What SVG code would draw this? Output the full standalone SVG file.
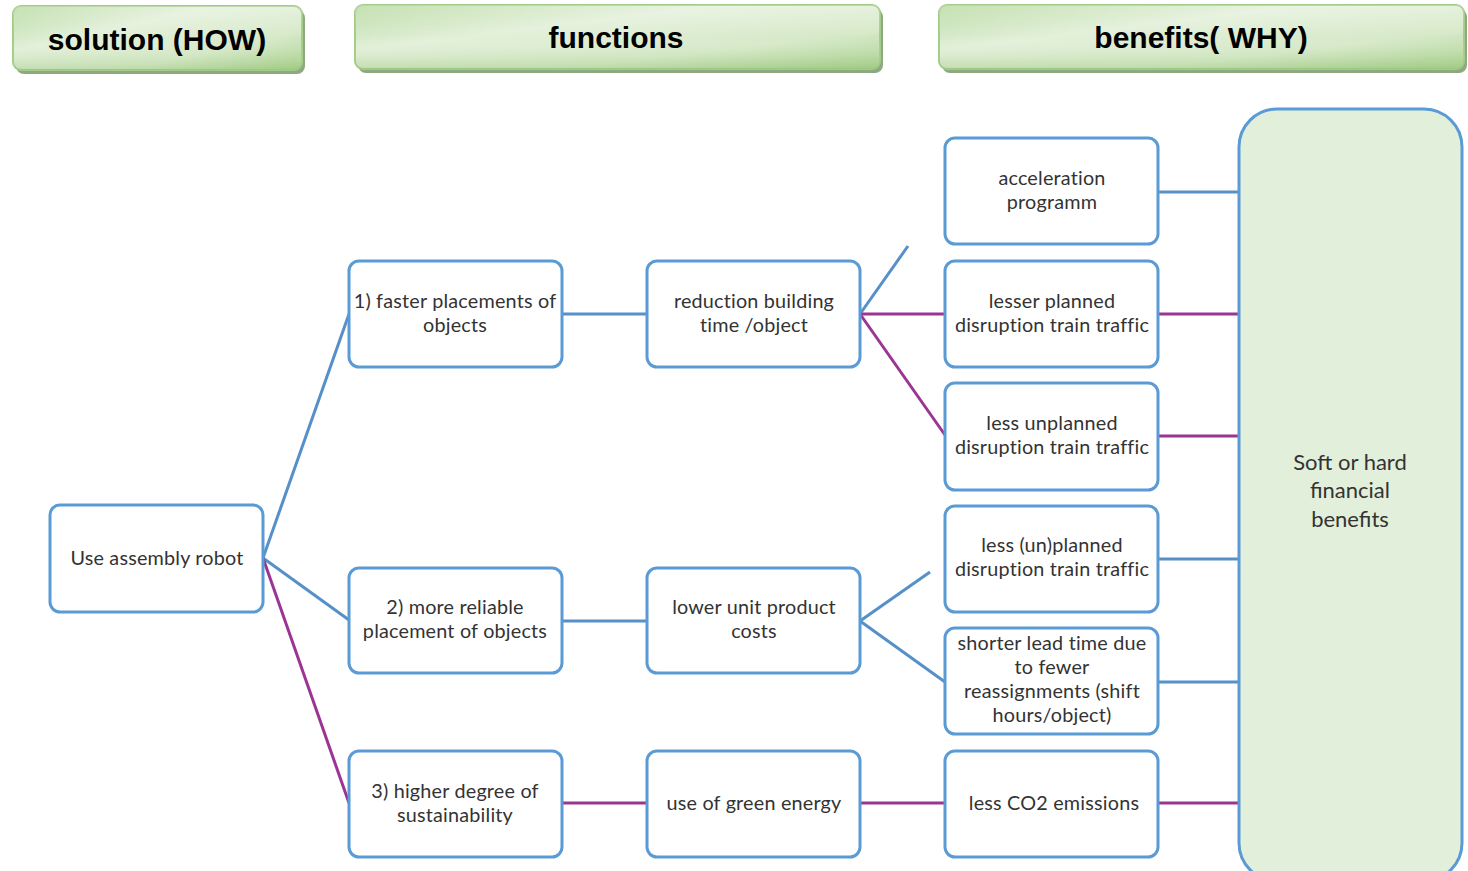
<svg xmlns="http://www.w3.org/2000/svg" width="1468" height="871" viewBox="0 0 1468 871">
<defs>
<linearGradient id="hg" x1="0" y1="0" x2="1" y2="1">
<stop offset="0" stop-color="#b4d89c"/>
<stop offset="0.35" stop-color="#e3f0da"/>
<stop offset="0.7" stop-color="#d6e9c8"/>
<stop offset="1" stop-color="#a8d08c"/>
</linearGradient>
<linearGradient id="hv" x1="0" y1="0" x2="0" y2="1">
<stop offset="0" stop-color="#ffffff" stop-opacity="0.25"/>
<stop offset="0.5" stop-color="#ffffff" stop-opacity="0"/>
<stop offset="1" stop-color="#8fbf6f" stop-opacity="0.35"/>
</linearGradient>
</defs>
<style>
.hdrs{fill:#8ea882;}
.hdr{fill:url(#hg);stroke:#a3cc88;stroke-width:2;}
.hdrv{fill:url(#hv);}
.ht{font-family:"Liberation Sans",Arial,sans-serif;font-weight:bold;font-size:30px;fill:#000;text-anchor:middle;}
.box{fill:#fff;stroke:#5b9bd5;stroke-width:3;}
.big{fill:#e2efda;stroke:#5b9bd5;stroke-width:3;}
.t{font-family:Lato,"Open Sans",sans-serif;font-size:19.8px;fill:#333;text-anchor:middle;letter-spacing:0.2px;}
.tb{font-family:Lato,"Open Sans",sans-serif;font-size:22px;fill:#333;text-anchor:middle;}
.cb{stroke:#5590c8;stroke-width:3;fill:none;}
.cp{stroke:#9b3594;stroke-width:3;fill:none;}
</style>
<rect width="1468" height="871" fill="#fff"/>

<g id="hdr-solution">
<rect class="hdrs" x="16" y="10" width="289" height="64" rx="8"/>
<rect class="hdr" x="13" y="6" width="289" height="64" rx="8"/>
<rect class="hdrv" x="13" y="6" width="289" height="64" rx="8"/>
<text class="ht" x="157" y="50">solution (HOW)</text>
</g>
<g id="hdr-functions">
<rect class="hdrs" x="358" y="9" width="525" height="64" rx="8"/>
<rect class="hdr" x="355" y="5" width="525" height="64" rx="8"/>
<rect class="hdrv" x="355" y="5" width="525" height="64" rx="8"/>
<text class="ht" x="616" y="48">functions</text>
</g>
<g id="hdr-benefits">
<rect class="hdrs" x="942" y="9" width="525" height="64" rx="8"/>
<rect class="hdr" x="939" y="5" width="525" height="64" rx="8"/>
<rect class="hdrv" x="939" y="5" width="525" height="64" rx="8"/>
<text class="ht" x="1201" y="48">benefits( WHY)</text>
</g>

<g id="connectors">
<line class="cb" x1="263" y1="558" x2="349" y2="314"/>
<line class="cb" x1="263" y1="558" x2="349" y2="620"/>
<line class="cp" x1="263" y1="558" x2="349" y2="803"/>
<line class="cb" x1="562" y1="314" x2="647" y2="314"/>
<line class="cb" x1="562" y1="621" x2="647" y2="621"/>
<line class="cp" x1="562" y1="803" x2="647" y2="803"/>
<line class="cb" x1="860" y1="314" x2="908" y2="246"/>
<line class="cp" x1="860" y1="314" x2="945" y2="314"/>
<line class="cp" x1="860" y1="314" x2="945" y2="435"/>
<line class="cb" x1="860" y1="621" x2="930" y2="572"/>
<line class="cb" x1="860" y1="621" x2="945" y2="682"/>
<line class="cp" x1="860" y1="803" x2="945" y2="803"/>
<line class="cb" x1="1158" y1="192" x2="1239" y2="192"/>
<line class="cp" x1="1158" y1="314" x2="1239" y2="314"/>
<line class="cp" x1="1158" y1="436" x2="1239" y2="436"/>
<line class="cb" x1="1158" y1="559" x2="1239" y2="559"/>
<line class="cb" x1="1158" y1="682" x2="1239" y2="682"/>
<line class="cp" x1="1158" y1="803" x2="1239" y2="803"/>
</g>

<g id="n-robot">
<rect class="box" x="50" y="505" width="213" height="107" rx="10"/>
<text class="t" x="157" y="565">Use assembly robot</text>
</g>
<g id="n-f1">
<rect class="box" x="349" y="261" width="213" height="106" rx="10"/>
<text class="t" x="455" y="308">1) faster placements of</text>
<text class="t" x="455" y="332">objects</text>
</g>
<g id="n-f2">
<rect class="box" x="349" y="568" width="213" height="105" rx="10"/>
<text class="t" x="455" y="614">2) more reliable</text>
<text class="t" x="455" y="638">placement of objects</text>
</g>
<g id="n-f3">
<rect class="box" x="349" y="751" width="213" height="106" rx="10"/>
<text class="t" x="455" y="798">3) higher degree of</text>
<text class="t" x="455" y="822">sustainability</text>
</g>
<g id="n-reduction">
<rect class="box" x="647" y="261" width="213" height="106" rx="10"/>
<text class="t" x="754" y="308">reduction building</text>
<text class="t" x="754" y="332">time /object</text>
</g>
<g id="n-lower">
<rect class="box" x="647" y="568" width="213" height="105" rx="10"/>
<text class="t" x="754" y="614">lower unit product</text>
<text class="t" x="754" y="638">costs</text>
</g>
<g id="n-green">
<rect class="box" x="647" y="751" width="213" height="106" rx="10"/>
<text class="t" x="754" y="810">use of green energy</text>
</g>
<g id="n-accel">
<rect class="box" x="945" y="138" width="213" height="106" rx="10"/>
<text class="t" x="1052" y="185">acceleration</text>
<text class="t" x="1052" y="209">programm</text>
</g>
<g id="n-lesser">
<rect class="box" x="945" y="261" width="213" height="106" rx="10"/>
<text class="t" x="1052" y="308">lesser planned</text>
<text class="t" x="1052" y="332">disruption train traffic</text>
</g>
<g id="n-unplanned">
<rect class="box" x="945" y="383" width="213" height="107" rx="10"/>
<text class="t" x="1052" y="430">less unplanned</text>
<text class="t" x="1052" y="454">disruption train traffic</text>
</g>
<g id="n-unplanned2">
<rect class="box" x="945" y="506" width="213" height="106" rx="10"/>
<text class="t" x="1052" y="552">less (un)planned</text>
<text class="t" x="1052" y="576">disruption train traffic</text>
</g>
<g id="n-shorter">
<rect class="box" x="945" y="628" width="213" height="106" rx="10"/>
<text class="t" x="1052" y="650">shorter lead time due</text>
<text class="t" x="1052" y="674">to fewer</text>
<text class="t" x="1052" y="698">reassignments (shift</text>
<text class="t" x="1052" y="722">hours/object)</text>
</g>
<g id="n-co2">
<rect class="box" x="945" y="751" width="213" height="106" rx="10"/>
<text class="t" x="1054" y="810">less CO2 emissions</text>
</g>
<g id="n-benefits">
<rect class="big" x="1239" y="109" width="223" height="772" rx="38"/>
<text class="tb" x="1350" y="470">Soft or hard</text>
<text class="tb" x="1350" y="498">financial</text>
<text class="tb" x="1350" y="527">benefits</text>
</g>
</svg>
